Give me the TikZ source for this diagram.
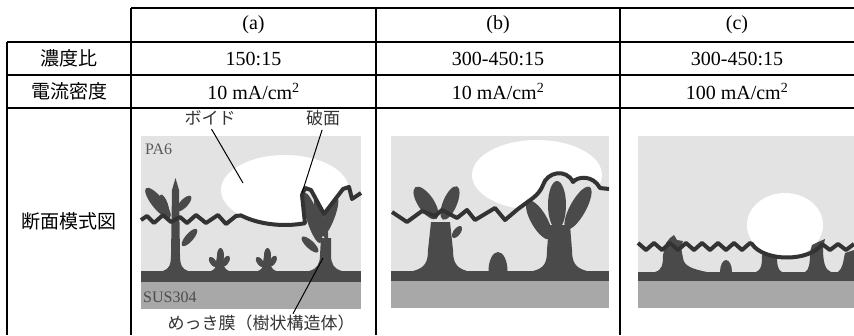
\documentclass[tikz,border=0pt]{standalone}
\usepackage{fontspec}
\setmainfont{Liberation Serif}
\newfontfamily\jp{Noto Sans CJK JP}
\usetikzlibrary{calc}

\tikzset{
  grid/.style={line width=1.3pt},
  hd/.style={font=\fontsize{20}{22}\selectfont},
  jhd/.style={font=\jp\fontsize{19}{22}\selectfont},
  lbl/.style={font=\jp\fontsize{17}{19}\selectfont, text=black!80, inner sep=1pt},
  mat/.style={font=\fontsize{16}{18}\selectfont, inner sep=0pt},
  resin/.style={fill=black!11},
  plating/.style={fill=black!71},
  steel/.style={fill=black!34},
  crack/.style={draw=black!80, line width=4pt, line join=round},
  leader/.style={draw=black, line width=1pt},
}

% one leaf of a dendrite: x, y, angle, half length, half width
\newcommand\leaf[5]{\fill[plating, rotate around={#3:(#1,#2)}] (#1,#2) ellipse ({#4} and {#5});}

% fracture surfaces
\newcommand\cracka{(141,220) -- (147,216) -- (154,223) -- (163,215) -- (171,222) -- (180,217)
  -- (187,223) -- (196,215) -- (206,223) -- (218,215) -- (226,224) -- (236,216) -- (241,215.4)
  arc[start angle=133.4, end angle=71.8, x radius=64, y radius=35]
  -- (302,195) -- (305,188) -- (311,190) -- (324,214) -- (343,189) -- (349,187) -- (352,199) -- (361,193)}
\newcommand\crackb{(392,212) -- (407,222) -- (422,211) -- (435,216) -- (442,210) -- (457,218)
  -- (467,210) -- (475,220) -- (495,208) -- (505,220) -- (518,209) -- (533,198)
  .. controls (538,194) and (541,190) .. (543,185) .. controls (547,172) and (566,168) .. (573,182)
  .. controls (578,176) and (593,175) .. (600,188) -- (609,189)}

\begin{document}
\begin{tikzpicture}[x=1pt, y=-1pt]
\useasboundingbox (0,0) rectangle (854,335);

% table rules
\draw[grid] (131,8) -- (854,8);
\foreach \y in {42,75,108}
  \draw[grid] (7,\y) -- (854,\y);
\draw[grid] (7,42) -- (7,335);
\foreach \x in {131,376,620}
  \draw[grid] (\x,8) -- (\x,335);

% header and conditions
\node[hd] (ha) at (253.5,25) {(a)};
\node[hd] (hb) at (498,25) {(b)};
\node[hd] (hc) at (737,25) {(c)};
\node[jhd] (ratio) at (69,58.5) {濃度比};
\node[jhd] (density) at (69,91.5) {電流密度};
\node[jhd] (section) at (69,221) {断面模式図};
\node[hd] (ra) at (253.5,58.5) {150:15};
\node[hd] (rb) at (498,58.5) {300-450:15};
\node[hd] (rc) at (737,58.5) {300-450:15};
\node[hd] (da) at (253.5,91.5) {10 mA/cm\textsuperscript{2}};
\node[hd] (db) at (498,91.5) {10 mA/cm\textsuperscript{2}};
\node[hd] (dc) at (737,91.5) {100 mA/cm\textsuperscript{2}};

% (a) 150:15, 10 mA/cm2
\fill[resin] (141,136) rectangle (361,309);
\begin{scope}
  \clip \cracka -- (361,136) -- (141,136) -- cycle;
  \fill[white] (285,190) ellipse (64 and 35);
\end{scope}
\fill[plating] (163,271) .. controls (169,269) and (171,265) .. (171,255) -- (172,190) -- (175.5,178)
  -- (179,190) -- (180,255) .. controls (180,265) and (182,269) .. (188,271) -- cycle;
\leaf{158}{203}{129}{19}{6}
\leaf{164.5}{205}{109}{11}{3.5}
\leaf{184}{203.5}{47}{10}{4}
\leaf{189.5}{237.5}{49}{11}{4}
\foreach \x in {220,267} {
  \fill[plating] (\x-9,271) .. controls (\x-4,269) and (\x-4,266) .. (\x-4,262) -- (\x-3,256)
    -- (\x+3,256) -- (\x+4,262) .. controls (\x+4,266) and (\x+4,269) .. (\x+9,271) -- cycle;
  \fill[plating] (\x+0.5,255.5) ellipse (3.5 and 7.5);
  \leaf{\x-7}{262}{125}{6}{3}
  \leaf{\x+6}{261}{60}{6}{3}
}
\fill[plating] (309,271) .. controls (317,269) and (320,264) .. (320,255) -- (321,238) -- (331,238)
  -- (331,255) .. controls (331,264) and (334,269) .. (342,271) -- cycle;
\leaf{312.5}{218}{107}{26}{6}
\leaf{321}{218.5}{106}{22}{4}
\leaf{329.5}{217}{69}{21}{5}
\leaf{310}{244.5}{137}{11}{4}
\fill[plating] (141,271) rectangle (361,282);
\fill[steel] (141,282) rectangle (361,309);
\draw[crack] \cracka;
\node[mat, anchor=west, text=black!65] (pa) at (145,149) {PA6};
\node[mat, anchor=west, text=black!70] (sus) at (143,297) {SUS304};

\node[lbl] (voidlbl) at (210,118) {ボイド};
\node[lbl] (fraclbl) at (323,118) {破面};
\node[lbl] (platelbl) at (261,323) {めっき膜（樹状構造体）};
\coordinate (voidpt) at (243,183);
\coordinate (fracpt) at (302,193);
\coordinate (treept) at (323,258);
\draw[leader, shorten <=3pt] (voidlbl.south) -- (voidpt);
\draw[leader, shorten <=3pt] (fraclbl.south) -- (fracpt);
\draw[leader] ($(platelbl.north)+(32,0)$) -- (treept);

% (b) 300-450:15, 10 mA/cm2
\fill[resin] (391,136) rectangle (609,308);
\begin{scope}
  \clip \crackb -- (609,136) -- (391,136) -- cycle;
  \fill[white] (537,175) ellipse (65 and 35);
\end{scope}
\fill[plating] (413,271) .. controls (425,268) and (428,262) .. (428,250) -- (431,222) -- (450,222)
  -- (453,250) .. controls (453,262) and (456,268) .. (467,271) -- cycle;
\leaf{426}{203}{124}{19}{8}
\leaf{450}{203}{67}{18}{7}
\leaf{457}{232}{53}{7}{3.5}
\fill[plating] (498,271) ellipse (9.5 and 19);
\fill[plating] (533,271) .. controls (545,268) and (547,262) .. (547,250) -- (549,225) -- (570,225)
  -- (572,250) .. controls (572,262) and (575,268) .. (587,271) -- cycle;
\fill[plating] (557,205) ellipse (9 and 24);
\leaf{539}{220}{120}{22}{8}
\leaf{578}{208}{61}{24}{8}
\fill[plating] (391,271) rectangle (609,281);
\fill[steel] (391,281) rectangle (609,308);
\draw[crack] \crackb;

% (c) 300-450:15, 100 mA/cm2
\fill[resin] (638,136) rectangle (854,308);
\fill[white] (785,225) ellipse (38 and 32);
\fill[plating] (655,272) .. controls (662,270) and (663,265) .. (663,255) -- (666,243) -- (670,238)
  -- (674,235) -- (677,240) -- (683,241) -- (681,247) -- (683,258)
  .. controls (684,266) and (692,269) .. (707,272) -- cycle;
\fill[plating] (726,272) ellipse (6 and 12);
\fill[plating] (756,272) .. controls (761,270) and (762,266) .. (762,255) -- (777,255)
  .. controls (777,266) and (778,270) .. (782,272) -- cycle;
\fill[plating] (805,272) .. controls (809,270) and (810,264) .. (810,252) -- (812,245) -- (818,242)
  -- (825,239) -- (823,248) .. controls (823,262) and (825,270) .. (831,272) -- cycle;
\fill[plating] (838,272) .. controls (843,268) and (843,262) .. (845,253) -- (854,250) -- (854,272) -- cycle;
\fill[plating] (638,272) rectangle (854,281);
\fill[steel] (638,281) rectangle (854,308);
\draw[crack] (638,243) \foreach \k in {1,...,7} { -- ++(8,7) -- ++(8,-7) } -- (752,244)
  .. controls (764,262) and (810,262) .. (822,244)
  \foreach \k in {1,...,2} { -- ++(8,6) -- ++(8,-6) };
\end{tikzpicture}
\end{document}
